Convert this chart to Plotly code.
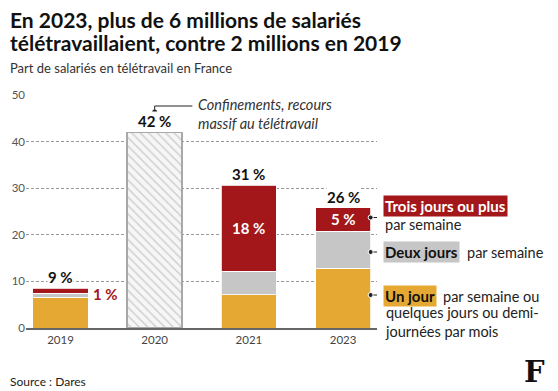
import plotly.graph_objects as go

# ---- data ----
years = ["2019", "2020", "2021", "2023"]
un_jour = [6.6, None, 7.1, 12.8]
deux_jours = [0.9, None, 5.1, 8.0]
trois_jours = [1.0, None, 18.4, 5.0]
confinement = [None, 42.0, None, None]
total_labels = ["9 %", "42 %", "31 %", "26 %"]
inner_labels = ["1 %", None, "18 %", "5 %"]
y_ticks = [0, 10, 20, 30, 40, 50]

RED = "#A3171A"
GRAY = "#C6C6C6"
YELLOW = "#E5A933"
FONT = "Lato, 'Noto Sans', sans-serif"

W, H = 558, 391
L, R, T, B = 26, 181, 95, 63
PW, PH = W - L - R, H - T - B

def pxx(px):
    return (px - L) / PW

def pxy(py):
    return (H - B - py) / PH

xs = list(range(len(years)))
totals = []
for i in xs:
    if confinement[i] is not None:
        totals.append(confinement[i])
    else:
        totals.append(un_jour[i] + deux_jours[i] + trois_jours[i])

fig = go.Figure()
bw = 0.585
fig.add_bar(x=xs, y=un_jour, marker=dict(color=YELLOW, line=dict(color="white", width=0.8)), width=bw)
fig.add_bar(x=xs, y=deux_jours, marker=dict(color=GRAY, line=dict(color="white", width=0.8)), width=bw)
fig.add_bar(x=xs, y=trois_jours, marker=dict(color=RED, line=dict(color="white", width=0.8)), width=bw)
fig.add_bar(x=xs, y=confinement, width=bw,
            marker=dict(color="#f4f4f4", line=dict(color="#a8a8a8", width=1.5),
                        pattern=dict(shape="\\", fgcolor="#a8a8a8", bgcolor="#f6f6f6", size=6, solidity=0.25)))

ann = []
# totals
for i in xs:
    ann.append(dict(x=xs[i], y=totals[i], xref="x", yref="y", text="<b>%s</b>" % total_labels[i],
                    showarrow=False, yanchor="bottom", yshift=1, bgcolor="white", borderpad=0,
                    font=dict(family=FONT, size=15, color="#111")))
# inner labels
ann.append(dict(x=xs[0] + bw / 2, y=un_jour[0] + deux_jours[0] + trois_jours[0] / 2, xref="x", yref="y",
                text="<b>%s</b>" % inner_labels[0], showarrow=False, xanchor="left", xshift=3, yshift=-3,
                font=dict(family=FONT, size=15, color=RED)))
for i in (2, 3):
    ann.append(dict(x=xs[i], y=un_jour[i] + deux_jours[i] + trois_jours[i] / 2, xref="x", yref="y",
                    text="<b>%s</b>" % inner_labels[i], showarrow=False,
                    font=dict(family=FONT, size=15, color="white")))

# 2020 callout
ann.append(dict(x=pxx(196), y=pxy(113.5), xref="paper", yref="paper", xanchor="left", yanchor="middle",
                text="<i>Confinements, recours<br>massif au télétravail</i>", showarrow=False, align="left",
                font=dict(family=FONT, size=14.5, color="#333")))

# legend-like labels
lx = pxx(383)
ann += [
    dict(x=lx, y=pxy(205.5), text="<b>Trois jours ou plus</b>", bgcolor=RED, font=dict(family=FONT, size=15, color="white")),
    dict(x=lx, y=pxy(224), text="par semaine", font=dict(family=FONT, size=14.5, color="#222")),
    dict(x=lx, y=pxy(252), text="<b>Deux jours</b>", bgcolor=GRAY, font=dict(family=FONT, size=15, color="#111")),
    dict(x=pxx(465), y=pxy(252), text="par semaine", font=dict(family=FONT, size=14.5, color="#222")),
    dict(x=lx, y=pxy(296), text="<b>Un jour</b>", bgcolor=YELLOW, font=dict(family=FONT, size=15, color="#111")),
    dict(x=pxx(441), y=pxy(296), text="par semaine ou", font=dict(family=FONT, size=14.5, color="#222")),
    dict(x=lx, y=pxy(321.5), text="quelques jours ou demi-<br>journées par mois", align="left",
         font=dict(family=FONT, size=14.5, color="#222")),
]
for a in ann[-7:]:
    a.update(xref="paper", yref="paper", xanchor="left", yanchor="middle", showarrow=False, borderpad=1)

# titles & source
ann += [
    dict(x=pxx(8), y=pxy(19), text="<b>En 2023, plus de 6 millions de salariés</b>",
         font=dict(family=FONT, size=21, color="#111")),
    dict(x=pxx(8), y=pxy(42), text="<b>télétravaillaient, contre 2 millions en 2019</b>",
         font=dict(family=FONT, size=21, color="#111")),
    dict(x=pxx(8), y=pxy(68), text="Part de salariés en télétravail en France",
         font=dict(family=FONT, size=13, color="#333")),
    dict(x=pxx(8), y=pxy(381), text="Source : Dares", font=dict(family=FONT, size=12, color="#222")),
    dict(x=pxx(522), y=pxy(372), text="<b>F</b>", font=dict(family="DejaVu Serif", size=29, color="#111")),
]
for a in ann[-5:]:
    a.update(xref="paper", yref="paper", xanchor="left", yanchor="middle", showarrow=False)

shapes = []
# callout line for 2020
cy = pxy(106)
shapes.append(dict(type="line", xref="x", yref="paper", x0=xs[1], x1=xs[1], y0=pxy(112), y1=cy,
                   line=dict(color="#222", width=1)))
shapes.append(dict(type="line", xref="x", yref="paper", x0=xs[1], x1=xs[1] + 0.4, y0=cy, y1=cy,
                   line=dict(color="#222", width=1)))
shapes.append(dict(type="circle", xref="x", yref="paper", xsizemode="pixel", ysizemode="pixel",
                   xanchor=xs[1], yanchor=pxy(112), x0=-2.5, x1=2.5, y0=-2.5, y1=2.5,
                   fillcolor="#222", line=dict(width=0)))
# legend connector dots
for py in (217.5, 252, 295):
    shapes.append(dict(type="line", xref="x", yref="paper", x0=xs[3] + bw / 2, x1=xs[3] + bw / 2 + 0.11,
                       y0=pxy(py), y1=pxy(py), line=dict(color="#222", width=1)))
    shapes.append(dict(type="circle", xref="x", yref="paper", xsizemode="pixel", ysizemode="pixel",
                       xanchor=xs[3] + bw / 2, yanchor=pxy(py), x0=-2.5, x1=2.5, y0=-2.5, y1=2.5,
                       fillcolor="#222", line=dict(color="white", width=1)))

fig.update_layout(
    width=W, height=H, autosize=False,
    margin=dict(l=L, r=R, t=T, b=B),
    barmode="stack", showlegend=False,
    plot_bgcolor="white", paper_bgcolor="white",
    font=dict(family=FONT),
    annotations=ann, shapes=shapes,
    xaxis=dict(range=[-0.366, 3.36], tickvals=xs, ticktext=years, showgrid=False, zeroline=False,
               showline=True, linecolor="#666", linewidth=1.5, ticks="",
               tickfont=dict(family=FONT, size=11.5, color="#444")),
    yaxis=dict(range=[0, 50], tickvals=y_ticks, showgrid=True, gridcolor="#999", griddash="3px,2px",
               gridwidth=1, zeroline=False, showline=False, ticks="",
               tickfont=dict(family=FONT, size=11.5, color="#555")),
)

fig.write_html("out.html", config={"displayModeBar": False},
               post_script="document.body.style.margin='0';document.body.style.overflow='hidden';")
